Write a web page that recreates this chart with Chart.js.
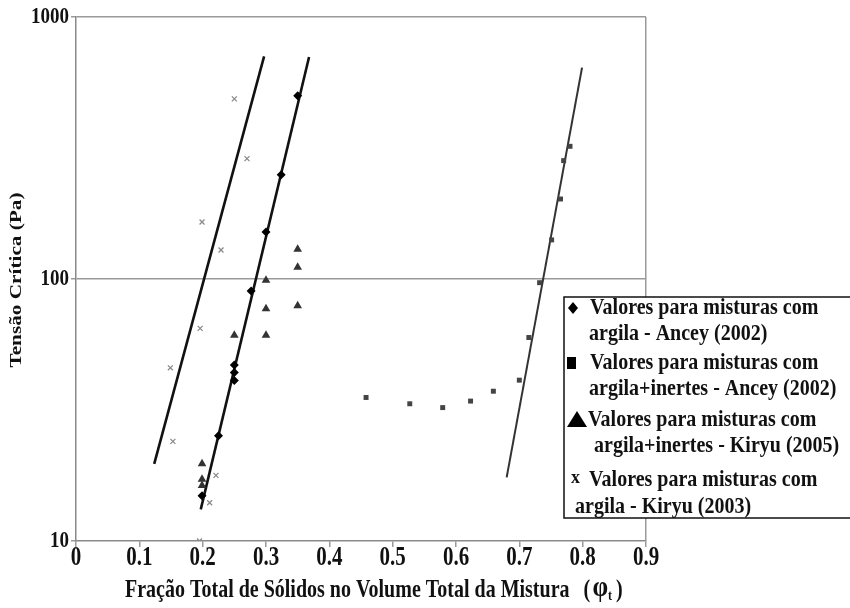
<!DOCTYPE html>
<html>
<head>
<meta charset="utf-8">
<script src="https://cdn.jsdelivr.net/npm/chart.js@4.4.0/dist/chart.umd.min.js"></script>
<style>
  body { margin: 0; background: #fff; }
</style>
</head>
<body>
<canvas id="grafico" width="850" height="608"></canvas>
<script>
// pontos (x = fracao de solidos, y = tensao critica em Pa)
const anceyArgilaX = [0.199, 0.225, 0.250, 0.250, 0.250, 0.2765, 0.300, 0.324, 0.350];
const anceyArgilaY = [14.9, 25.2, 41, 44, 47, 90, 151, 250, 501];

const anceyInertesX = [0.458, 0.527, 0.579, 0.623, 0.659, 0.700, 0.715, 0.732, 0.751, 0.765, 0.770, 0.780];
const anceyInertesY = [35.3, 33.4, 32.3, 34.2, 37.3, 41.1, 59.8, 96.8, 141, 202, 283, 321];

const kiryu2005X = [0.199, 0.199, 0.199, 0.250, 0.300, 0.300, 0.300, 0.350, 0.350, 0.350];
const kiryu2005Y = [19.7, 17.2, 16.3, 61, 61, 77, 99, 79, 111, 130];

const kiryu2003X = [0.195, 0.211, 0.221, 0.153, 0.149, 0.196, 0.229, 0.199, 0.270, 0.250];
const kiryu2003Y = [10, 14, 17.8, 24, 45.8, 64.8, 129, 165, 288, 487];

// retas de ajuste (dois pontos cada)
const retaKiryuX = [0.1235, 0.297];
const retaKiryuY = [19.7, 708];
const retaAnceyX = [0.197, 0.368];
const retaAnceyY = [13.2, 704];
const retaInertesX = [0.680, 0.799];
const retaInertesY = [17.5, 641];

const xTicks = ['0', '0.1', '0.2', '0.3', '0.4', '0.5', '0.6', '0.7', '0.8', '0.9'];
const yTicks = [10, 100, 1000];

const legenda = [
  { simbolo: 'diamante', linhas: ['Valores para misturas com', 'argila - Ancey (2002)'] },
  { simbolo: 'quadrado', linhas: ['Valores para misturas com', 'argila+inertes - Ancey (2002)'] },
  { simbolo: 'triangulo', linhas: ['Valores para misturas com', 'argila+inertes - Kiryu (2005)'] },
  { simbolo: 'x', linhas: ['Valores para misturas com', 'argila - Kiryu (2003)'] }
];

function pares(xs, ys) {
  return xs.map((x, i) => ({ x: x, y: ys[i] }));
}

const fonte = "'Liberation Serif', 'Times New Roman', serif";

function textoEsticado(ctx, txt, x, y, tam, sy, align) {
  ctx.save();
  ctx.translate(x, y);
  ctx.scale(1, sy);
  ctx.font = 'bold ' + tam + 'px ' + fonte;
  ctx.textAlign = align;
  ctx.textBaseline = 'middle';
  ctx.fillStyle = '#111';
  ctx.fillText(txt, 0, 0);
  ctx.restore();
}

// textos dos eixos e legenda desenhados por cima
const textos = {
  id: 'textos',
  afterDraw(chart) {
    const ctx = chart.ctx;
    const sx = chart.scales.x, sy = chart.scales.y;

    xTicks.forEach(t => {
      textoEsticado(ctx, t, sx.getPixelForValue(Number(t)), 558, 21, 1.3, 'center');
    });
    yTicks.forEach(v => {
      textoEsticado(ctx, String(v), 69, sy.getPixelForValue(v), 19, 1.25, 'right');
    });

    // titulo do eixo y (rodado)
    ctx.save();
    ctx.translate(17, 280);
    ctx.rotate(-Math.PI / 2);
    ctx.scale(1.25, 1);
    ctx.font = 'bold 17px ' + fonte;
    ctx.textAlign = 'center';
    ctx.textBaseline = 'middle';
    ctx.fillStyle = '#111';
    ctx.fillText('Tensão Crítica (Pa)', 0, 0);
    ctx.restore();

    // titulo do eixo x com phi_t
    const tx = 125, ty = 590;
    textoEsticado(ctx, 'Fração Total de Sólidos no Volume Total da Mistura', tx, ty, 20, 1.3, 'left');
    ctx.font = 'bold 20px ' + fonte;
    const w = ctx.measureText('Fração Total de Sólidos no Volume Total da Mistura').width;
    let px = tx + w + 14;
    textoEsticado(ctx, '(', px, ty, 20, 1.3, 'left');
    px += 9;
    textoEsticado(ctx, 'φ', px, ty - 1, 25, 1.15, 'left');
    ctx.font = 'bold 25px ' + fonte;
    px += ctx.measureText('φ').width;
    textoEsticado(ctx, 't', px, ty + 6, 12, 1.2, 'left');
    px += 8;
    textoEsticado(ctx, ')', px, ty, 20, 1.3, 'left');

    // legenda
    const lx = 564, ly = 297, lw = 290, lh = 221;
    ctx.save();
    ctx.fillStyle = '#fff';
    ctx.fillRect(lx, ly, lw, lh);
    ctx.strokeStyle = '#111';
    ctx.lineWidth = 1.5;
    ctx.strokeRect(lx, ly, lw, lh);
    const linhasY = [308, 334, 363, 389, 420, 446, 480, 507];
    const recuo = [[590, 589], [590, 589], [588, 594], [589, 575]];
    ctx.fillStyle = '#000';
    legenda.forEach((item, i) => {
      const y1 = linhasY[i * 2], y2 = linhasY[i * 2 + 1];
      ctx.beginPath();
      if (item.simbolo === 'diamante') {
        ctx.moveTo(573, y1 - 6); ctx.lineTo(578, y1); ctx.lineTo(573, y1 + 6); ctx.lineTo(568, y1);
        ctx.fill();
      } else if (item.simbolo === 'quadrado') {
        ctx.fillRect(567, y1 - 6, 9, 12);
      } else if (item.simbolo === 'triangulo') {
        ctx.moveTo(577, y1 - 9); ctx.lineTo(587, y1 + 7); ctx.lineTo(567, y1 + 7);
        ctx.fill();
      } else {
        textoEsticado(ctx, 'x', 571, y1 - 2, 18, 1.1, 'left');
      }
      textoEsticado(ctx, item.linhas[0], recuo[i][0], y1, 20, 1.15, 'left');
      textoEsticado(ctx, item.linhas[1], recuo[i][1], y2, 20, 1.15, 'left');
    });
    ctx.restore();
  }
};

new Chart(document.getElementById('grafico'), {
  type: 'scatter',
  data: {
    datasets: [
      {
        label: 'argila - Ancey (2002)',
        data: pares(anceyArgilaX, anceyArgilaY),
        pointStyle: 'rectRot', pointRadius: 4.5,
        backgroundColor: '#000', borderColor: '#000', borderWidth: 0
      },
      {
        label: 'argila+inertes - Ancey (2002)',
        data: pares(anceyInertesX, anceyInertesY),
        pointStyle: 'rect', pointRadius: 3.5,
        backgroundColor: '#444', borderColor: '#444', borderWidth: 0
      },
      {
        label: 'argila+inertes - Kiryu (2005)',
        data: pares(kiryu2005X, kiryu2005Y),
        pointStyle: 'triangle', pointRadius: 5,
        backgroundColor: '#333', borderColor: '#333', borderWidth: 0
      },
      {
        label: 'argila - Kiryu (2003)',
        data: pares(kiryu2003X, kiryu2003Y),
        pointStyle: 'crossRot', pointRadius: 3.5,
        borderColor: '#8a8a8a', borderWidth: 1.3
      },
      {
        label: 'reta Kiryu',
        data: pares(retaKiryuX, retaKiryuY),
        showLine: true, pointRadius: 0, borderColor: '#111', borderWidth: 2.6
      },
      {
        label: 'reta Ancey',
        data: pares(retaAnceyX, retaAnceyY),
        showLine: true, pointRadius: 0, borderColor: '#111', borderWidth: 2.6
      },
      {
        label: 'reta inertes',
        data: pares(retaInertesX, retaInertesY),
        showLine: true, pointRadius: 0, borderColor: '#333', borderWidth: 2
      }
    ]
  },
  options: {
    responsive: false,
    animation: false,
    devicePixelRatio: 1,
    layout: { padding: { left: 0, top: 17, right: 204, bottom: 0 } },
    plugins: {
      legend: { display: false },
      tooltip: { enabled: false }
    },
    scales: {
      x: {
        type: 'linear',
        min: 0, max: 0.9,
        ticks: { display: false, stepSize: 0.1 },
        grid: {
          color: ctx => (ctx.tick && Math.abs(ctx.tick.value - 0.9) < 1e-6) ? '#9a9a9a' : 'rgba(0,0,0,0)',
          lineWidth: 1.5,
          drawTicks: true,
          tickLength: 6,
          tickColor: '#9a9a9a'
        },
        border: { color: '#8a8a8a', width: 1.5 },
        afterFit(scale) { scale.height = 67; }
      },
      y: {
        type: 'logarithmic',
        min: 10, max: 1000,
        ticks: { display: false },
        afterBuildTicks(scale) {
          scale.ticks = yTicks.map(v => ({ value: v }));
        },
        grid: {
          color: ctx => (ctx.tick && ctx.tick.value > 10) ? '#9a9a9a' : 'rgba(0,0,0,0)',
          lineWidth: 1.5,
          drawTicks: true,
          tickLength: 5,
          tickColor: '#9a9a9a'
        },
        border: { color: '#8a8a8a', width: 1.5 },
        afterFit(scale) { scale.width = 76; }
      }
    }
  },
  plugins: [textos]
});
</script>
</body>
</html>
